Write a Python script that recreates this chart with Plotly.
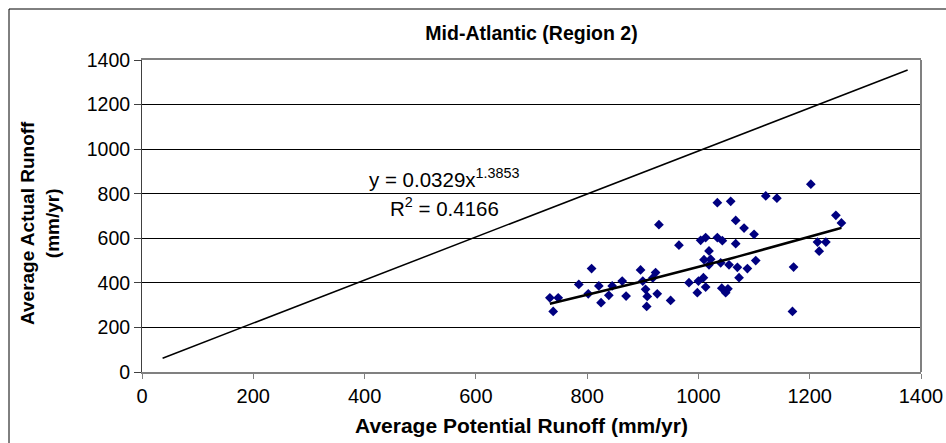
import numpy as np
import plotly.graph_objects as go

# Observed data: average potential runoff (x) vs average actual runoff (y), mm/yr
potential_runoff = [733, 748, 739, 785, 808, 802, 821, 839, 825, 845, 863, 870,
                    896, 900, 905, 908, 907, 923, 918, 926, 929, 950, 965, 983,
                    998, 1000, 1009, 1013, 1004, 1013, 1019, 1010, 1022, 1019,
                    1034, 1034, 1043, 1040, 1055, 1042, 1049, 1053, 1058, 1067,
                    1082, 1100, 1067, 1070, 1088, 1103, 1073, 1121, 1141, 1202,
                    1171, 1169, 1214, 1229, 1217, 1247, 1257]
actual_runoff = [333, 333, 272, 393, 464, 351, 386, 344, 311, 386, 408, 341,
                 458, 408, 371, 339, 294, 446, 422, 351, 661, 321, 569, 401,
                 356, 408, 423, 381, 591, 603, 543, 504, 506, 481,
                 760, 603, 589, 490, 481, 376, 356, 373, 766, 680,
                 646, 618, 576, 470, 464, 500, 423, 790, 780, 843,
                 471, 272, 583, 583, 542, 703, 669]

# Reference line (as drawn in the chart)
ref_x = [37, 1376]
ref_y = [62, 1355]

# Power trendline shown in chart: y = 0.0329 x^1.3853
trend_a = 0.0329
trend_b = 1.3853
trend_range = [733, 1257]

x_ticks = [0, 200, 400, 600, 800, 1000, 1200, 1400]
y_ticks = [0, 200, 400, 600, 800, 1000, 1200, 1400]

FONT = "Arial, Liberation Sans, sans-serif"

trend_x = np.linspace(trend_range[0], trend_range[1], 60)
trend_y = trend_a * trend_x ** trend_b

fig = go.Figure()
fig.add_trace(go.Scatter(x=ref_x, y=ref_y, mode="lines",
                         line=dict(color="black", width=1.5), hoverinfo="skip"))
fig.add_trace(go.Scatter(x=potential_runoff, y=actual_runoff, mode="markers",
                         marker=dict(symbol="diamond", size=7.5, color="#000080",
                                     line=dict(width=0))))
fig.add_trace(go.Scatter(x=trend_x, y=trend_y, mode="lines",
                         line=dict(color="black", width=2.5), hoverinfo="skip"))

L, R, T, B = 142, 25, 60, 71
W, H = 946, 443
pw, ph = W - L - R, H - T - B

def px_x(p):
    return (p - L) / pw

def px_y(p):
    return (H - B - p) / ph

fig.update_layout(
    width=W, height=H,
    margin=dict(l=L, r=R, t=T, b=B, pad=0),
    paper_bgcolor="white", plot_bgcolor="white",
    showlegend=False,
    font=dict(family=FONT, size=18, color="black"),
    title=dict(text="<b>Mid-Atlantic (Region 2)</b>", xref="container", x=531.5 / W,
               xanchor="center", yref="container", y=1 - 33 / H, yanchor="middle",
               font=dict(size=19.5, family=FONT)),
    xaxis=dict(range=[0, 1400], tickvals=x_ticks, ticktext=[str(v) for v in x_ticks],
               showgrid=False, zeroline=False, showline=True, linecolor="#808080",
               linewidth=2, mirror=True, ticks="outside", ticklen=5, tickcolor="#808080",
               tickwidth=1, tickfont=dict(size=20), automargin=False),
    yaxis=dict(range=[0, 1400], tickvals=y_ticks, ticktext=[str(v) for v in y_ticks],
               showgrid=True, gridcolor="black", gridwidth=1, zeroline=False,
               showline=True, linecolor="#404040", linewidth=1, ticks="outside",
               ticklen=7, tickcolor="#404040", tickfont=dict(size=19.5), automargin=False),
    shapes=[
        dict(type="line", xref="paper", yref="paper", x0=1, x1=1, y0=0, y1=1,
             line=dict(color="#808080", width=2)),
        dict(type="rect", xref="paper", yref="paper", x0=px_x(9), x1=px_x(980),
             y0=px_y(480), y1=px_y(9), line=dict(color="black", width=1),
             fillcolor="rgba(0,0,0,0)", layer="below"),
    ],
    annotations=[
        dict(text="<b>Average Potential Runoff (mm/yr)</b>", xref="paper", yref="paper",
             x=px_x(521), y=px_y(425), xanchor="center", yanchor="middle",
             showarrow=False, font=dict(size=21, family=FONT)),
        dict(text="<b>Average Actual Runoff<br>(mm/yr)</b>", xref="paper", yref="paper",
             x=px_x(40), y=px_y(223), xanchor="center", yanchor="middle", textangle=-90,
             showarrow=False, font=dict(size=19, family=FONT)),
        dict(text="y = 0.0329x<sup>1.3853</sup>", xref="paper", yref="paper",
             x=px_x(444), y=px_y(178), xanchor="center", yanchor="middle",
             showarrow=False, font=dict(size=20.5, family=FONT)),
        dict(text="R<sup>2</sup> = 0.4166", xref="paper", yref="paper",
             x=px_x(444), y=px_y(207), xanchor="center", yanchor="middle",
             showarrow=False, font=dict(size=20.5, family=FONT)),
    ],
)

fig.write_html("out.html", config={"displayModeBar": False})
